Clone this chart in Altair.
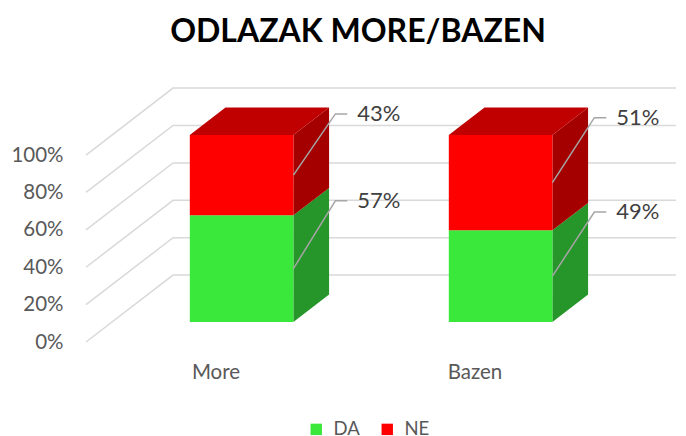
import altair as alt
import pandas as pd

# ---------------- data ----------------
categories = ["More", "Bazen"]
series = ["DA", "NE"]
da_values = [57, 49]
ne_values = [43, 51]
y_ticks = [0, 20, 40, 60, 80, 100]

front_colors = ["#3AE83C", "#FF0000"]
side_colors = ["#26952A", "#A50000"]
top_color = "#C00000"
grid_color = "#D9D9D9"
leader_color = "#A6A6A6"
text_color = "#404040"
axis_color = "#595959"
FONT = "Lato"

# ---------------- 3D layout constants (scale units) ----------------
XMAX = 2.278      # visible category slots
YMAX = 136.4      # percent units visible on the front plane
DEPTH_X = 0.336   # full floor depth, horizontal shift
DEPTH_Y = 35.8    # full floor depth, vertical shift
PLANE = 0.30      # depth of the bars' front face
THICK = 0.41      # bar thickness (fraction of full depth)
HALF = 0.20       # half bar width (slots)
LX = 0.162        # leader elbow
LE = 0.046        # leader horizontal tail

values = {"DA": da_values, "NE": ne_values}

fronts, sides, tops, leaders, labels, grid = [], [], [], [], [], []
base = PLANE * DEPTH_Y
for i, cat in enumerate(categories):
    cx = i + 0.5 + PLANE * DEPTH_X
    xl, xr = cx - HALF, cx + HALF
    cum = 0
    for si, s in enumerate(series):
        v = values[s][i]
        lo, hi = base + cum, base + cum + v
        fronts.append(dict(x=xl, x2=xr, y=lo, y2=hi, series=s))
        fid = f"{cat}-{s}"
        sides.append(dict(face=fid, x=xr, y=lo, y2=hi, c=side_colors[si]))
        sides.append(dict(face=fid, x=xr + THICK * DEPTH_X,
                          y=lo + THICK * DEPTH_Y, y2=hi + THICK * DEPTH_Y,
                          c=side_colors[si]))
        mid = (lo + hi) / 2
        ly = lo + 0.75 * v + 22
        leaders.append(dict(lid=fid, o=0, x=xr, y=mid))
        leaders.append(dict(lid=fid, o=1, x=xr + LX, y=ly))
        leaders.append(dict(lid=fid, o=2, x=xr + LX + LE, y=ly))
        labels.append(dict(x=xr + LX + LE, y=ly, t=f"{v}%"))
        cum += v
    top = base + cum
    tops.append(dict(face=cat, y=top, x=xl, x2=xr))
    tops.append(dict(face=cat, y=top + THICK * DEPTH_Y,
                     x=xl + THICK * DEPTH_X, x2=xr + THICK * DEPTH_X))

for t in y_ticks:
    grid.append(dict(t=t, o=0, x=0, y=t))
    grid.append(dict(t=t, o=1, x=DEPTH_X, y=t + DEPTH_Y))
    grid.append(dict(t=t, o=2, x=XMAX, y=t + DEPTH_Y))

xs = alt.Scale(domain=[0, XMAX], nice=False, zero=False)
ys = alt.Scale(domain=[0, YMAX], nice=False, zero=False)

cat_expr = "[" + ",".join(f"'{c}'" for c in categories) + "][floor(datum.value)]"

x_axis = alt.Axis(
    values=[i + 0.5 for i in range(len(categories))], labelExpr=cat_expr,
    domain=False, ticks=False, grid=False, title=None, labelPadding=20,
    labelFontSize=20.5, labelColor=axis_color, labelFont=FONT)
y_axis = alt.Axis(
    values=y_ticks, labelExpr="datum.value + '%'", domain=False,
    ticks=False, grid=False, title=None, labelPadding=23,
    labelFontSize=20.5, labelColor=axis_color, labelFont=FONT)


def X(field="x"):
    return alt.X(f"{field}:Q", scale=xs, axis=x_axis)


def Y(field="y"):
    return alt.Y(f"{field}:Q", scale=ys, axis=y_axis)


grid_layer = alt.Chart(pd.DataFrame(grid)).mark_line(
    color=grid_color, strokeWidth=1.5
).encode(x=X(), y=Y(), detail="t:N", order="o:Q")

side_layer = alt.Chart(pd.DataFrame(sides)).mark_area(orient="vertical").encode(
    x=X(), y=Y(), y2="y2:Q", detail="face:N",
    color=alt.Color("c:N", scale=None),
)

top_layer = alt.Chart(pd.DataFrame(tops)).mark_area(
    orient="horizontal", color=top_color
).encode(y=Y(), x=X(), x2="x2:Q", detail="face:N")

front_layer = alt.Chart(pd.DataFrame(fronts)).mark_rect().encode(
    x=X(), x2="x2:Q", y=Y(), y2="y2:Q",
    color=alt.Color("series:N", scale=alt.Scale(domain=series, range=front_colors),
                    legend=alt.Legend(title=None, orient="none", legendX=221,
                                      legendY=333, direction="horizontal",
                                      symbolType="square", symbolSize=130,
                                      symbolStrokeWidth=0, labelFontSize=18.5,
                                      labelColor=axis_color, labelFont=FONT,
                                      labelOffset=8, columnPadding=18)),
)

leader_layer = alt.Chart(pd.DataFrame(leaders)).mark_line(
    color=leader_color, strokeWidth=1.5
).encode(x=X(), y=Y(), detail="lid:N", order="o:Q")

label_layer = alt.Chart(pd.DataFrame(labels)).mark_text(
    align="left", baseline="middle", dx=10, fontSize=22, font=FONT, color=text_color
).encode(x=X(), y=Y(), text="t:N")

chart = alt.layer(
    grid_layer, side_layer, top_layer, front_layer, leader_layer, label_layer
).properties(
    width=590,
    height=255,
    autosize="none",
    padding={"left": 78, "top": 79, "right": 2, "bottom": 102},
    title=alt.TitleParams("ODLAZAK MORE/BAZEN", fontSize=32, fontWeight="bold",
                          font=FONT, color="#000000", anchor="middle",
                          dx=-23, offset=36),
).configure_view(stroke=None)

chart.save("out.html", embed_options={"renderer": "svg", "actions": False})
